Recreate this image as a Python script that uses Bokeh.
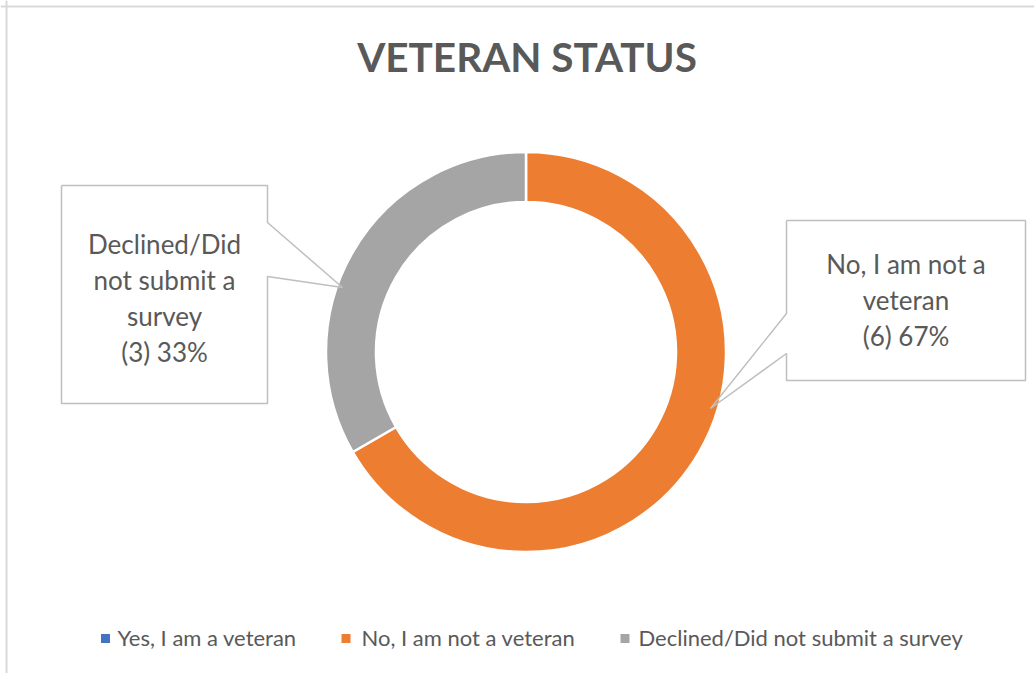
import math
from bokeh.plotting import figure
from bokeh.models import Range1d, Span
from bokeh.core.properties import value
from bokeh.embed import file_html
from bokeh.resources import INLINE

# ---------------- data ----------------
title_text = "VETERAN STATUS"
categories = ["Yes, I am a veteran", "No, I am not a veteran", "Declined/Did not submit a survey"]
counts = [0, 6, 3]
colors = ["#4472C4", "#ED7D31", "#A5A5A5"]
# wrapped category names as shown in the callouts (None = no callout)
callout_names = [None, ["No, I am not a", "veteran"], ["Declined/Did", "not submit a", "survey"]]

# ---------------- layout (screen pixels of the page) ----------------
W, H = 1034, 673
FONT = "Lato"
TXT = "#595959"
CX, CY = 525.5, 351.5          # donut centre
R_OUT, R_IN = 200, 150

# callout boxes: (left, top, right, bottom), pointer side, pointer y's on box edge, tip
callout_boxes = {
    1: dict(box=(786, 220, 1025, 380), side="left", py=(313, 353), tip=(710, 408), ty=263, cx=905.5),
    2: dict(box=(61, 185, 267, 403), side="right", py=(222, 276), tip=(342, 287), ty=243.5, cx=164),
}
line_gap = 36

legend_marker_x = [105, 345.5, 624.5]
legend_text_x = [117, 361, 638]
legend_y = 637

p = figure(width=W, height=H, output_backend="svg", toolbar_location=None,
           x_range=Range1d(0, W), y_range=Range1d(0, H),
           x_axis_location=None, y_axis_location=None, min_border=0)
p.grid.visible = False
p.outline_line_color = None
p.background_fill_color = "white"
p.border_fill_color = "white"


def Y(sy):
    # screen y (from top of window) -> data y
    return H - sy


# chart border (top + left)
p.add_layout(Span(location=6, dimension="height", line_color="#D9D9D9", line_width=2))
p.add_layout(Span(location=Y(6), dimension="width", line_color="#D9D9D9", line_width=2))

# title
p.text(x=[526.5], y=[Y(56)], text=[title_text], text_font=value(FONT),
       text_font_size="40.5px", text_font_style="bold", text_color=TXT,
       text_align="center", text_baseline="middle")

# donut
total = sum(counts)
cum = 0
starts, ends, cols = [], [], []
for c, col in zip(counts, colors):
    a0 = math.pi / 2 - 2 * math.pi * cum / total
    cum += c
    a1 = math.pi / 2 - 2 * math.pi * cum / total
    if c > 0:
        starts.append(a0)
        ends.append(a1)
        cols.append(col)
p.annular_wedge(x=CX, y=Y(CY), inner_radius=R_IN, outer_radius=R_OUT,
                start_angle=starts, end_angle=ends, direction="clock",
                fill_color=cols, line_color="white", line_width=2.5)

# callouts
for i, cfg in callout_boxes.items():
    l, t, r, b = cfg["box"]
    p.quad(left=l, right=r, top=Y(t), bottom=Y(b), fill_color="white", line_color=None)
    py1, py2 = cfg["py"]
    tx, ty = cfg["tip"]
    if cfg["side"] == "right":
        pts = [(l, t), (r, t), (r, py1), (tx, ty), (r, py2), (r, b), (l, b), (l, t)]
    else:
        pts = [(l, t), (r, t), (r, b), (l, b), (l, py2), (tx, ty), (l, py1), (l, t)]
    p.line([q[0] for q in pts], [Y(q[1]) for q in pts], line_color="#BFBFBF", line_width=1.5)
    pct = round(100 * counts[i] / total)
    lines = callout_names[i] + [f"({counts[i]}) {pct}%"]
    p.text(x=[cfg["cx"]] * len(lines), y=[Y(cfg["ty"] + k * line_gap) for k in range(len(lines))],
           text=lines, text_font=value(FONT), text_font_size="26px", text_color=TXT,
           text_align="center", text_baseline="middle")

# legend
p.scatter(x=legend_marker_x, y=[Y(638)] * 3, marker="square", size=9,
          fill_color=colors, line_color=None)
p.text(x=legend_text_x, y=[Y(legend_y)] * 3, text=categories, text_font=value(FONT),
       text_font_size="22px", text_color=TXT, text_align="left", text_baseline="middle")

open("out.html", "w").write(file_html(p, INLINE))
